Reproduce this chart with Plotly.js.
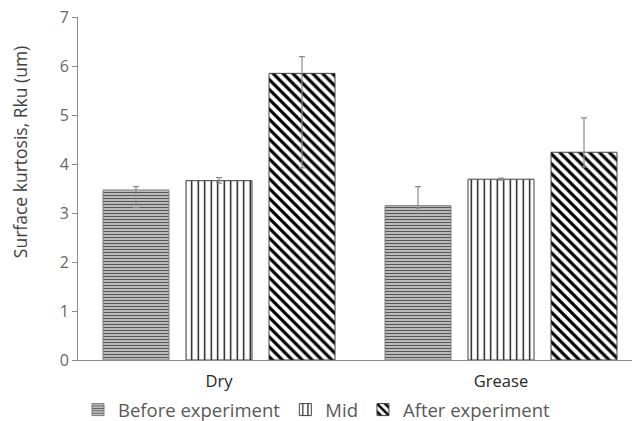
<!DOCTYPE html>
<html>
<head>
<meta charset="utf-8">
<script src="https://cdn.plot.ly/plotly-3.0.1.min.js"></script>
<style>html,body{margin:0;padding:0;background:#fff;}#chart{width:632px;height:421px;}</style>
</head>
<body>
<div id="chart"></div>
<script>
var categories = ["Dry", "Grease"];
var seriesNames = ["Before experiment", "Mid", "After experiment"];
var beforeVals = [3.47, 3.15];
var midVals = [3.66, 3.69];
var afterVals = [5.85, 4.24];
var beforePlus = [0.07, 0.39];
var beforeMinus = [0.36, 0.05];
var midPlus = [0.06, 0.02];
var midMinus = [0.05, 0.02];
var afterPlus = [0.34, 0.70];
var afterMinus = [1.93, 0.30];
var yTicks = [0, 1, 2, 3, 4, 5, 6, 7];
var yTitle = 'Surface kurtosis, Rku (um)';

var fontFam = "Open Sans, sans-serif";
function errY(p, m) {
  return {type: 'data', symmetric: false, array: p, arrayminus: m, color: '#8c8c8c', thickness: 1.2, width: 3};
}
var traces = [
  {type: 'bar', name: seriesNames[0], x: categories, y: beforeVals, error_y: errY(beforePlus, beforeMinus),
   marker: {color: '#ffffff', line: {color: '#7f7f7f', width: 1},
     pattern: {shape: '-', size: 3, solidity: 0.6, fgcolor: '#555555', fgopacity: 1, bgcolor: '#ffffff', fillmode: 'overlay'}}},
  {type: 'bar', name: seriesNames[1], x: categories, y: midVals, error_y: errY(midPlus, midMinus),
   marker: {color: '#ffffff', line: {color: '#404040', width: 1},
     pattern: {shape: '|', size: 6.5, solidity: 0.2, fgcolor: '#000000', fgopacity: 1, bgcolor: '#ffffff', fillmode: 'overlay'}}},
  {type: 'bar', name: seriesNames[2], x: categories, y: afterVals, error_y: errY(afterPlus, afterMinus),
   marker: {color: '#ffffff', line: {color: '#404040', width: 1},
     pattern: {shape: '\\', size: 7, solidity: 0.45, fgcolor: '#000000', fgopacity: 1, bgcolor: '#ffffff', fillmode: 'overlay'}}}
];

var layout = {
  width: 632, height: 421,
  margin: {l: 78, r: 0, t: 17, b: 61, autoexpand: false},
  paper_bgcolor: '#ffffff', plot_bgcolor: '#ffffff',
  barmode: 'group', bargap: 0.117, bargroupgap: 0.205,
  font: {family: fontFam, color: '#595959', size: 13},
  showlegend: true,
  legend: {orientation: 'h', x: 0, xanchor: 'left', y: -0.146, yanchor: 'middle',
    font: {family: fontFam, size: 18.5, color: '#595959'}, traceorder: 'normal', itemwidth: 30},
  xaxis: {type: 'category', range: [-0.5, 1.4645], showline: true, linecolor: '#8c8c8c', linewidth: 1.2,
    ticks: '', showgrid: false, zeroline: false, ticklabelstandoff: 6,
    tickfont: {family: fontFam, size: 16.5, color: '#262626'}},
  yaxis: {range: [0, 7], tickvals: yTicks, ticktext: yTicks.map(String), showline: true, linecolor: '#8c8c8c', linewidth: 1,
    ticks: 'outside', ticklen: 5, tickcolor: '#8c8c8c', showgrid: false, zeroline: false,
    tickfont: {family: fontFam, size: 16, color: '#666666'}},
  annotations: [{text: yTitle, textangle: -90, xref: 'paper', yref: 'paper', x: -0.1047, y: 0.606,
    xanchor: 'center', yanchor: 'middle', showarrow: false,
    font: {family: fontFam, size: 17.5, color: '#404040'}}]
};
Plotly.newPlot('chart', traces, layout, {displayModeBar: false, staticPlot: true});
</script>
</body>
</html>
